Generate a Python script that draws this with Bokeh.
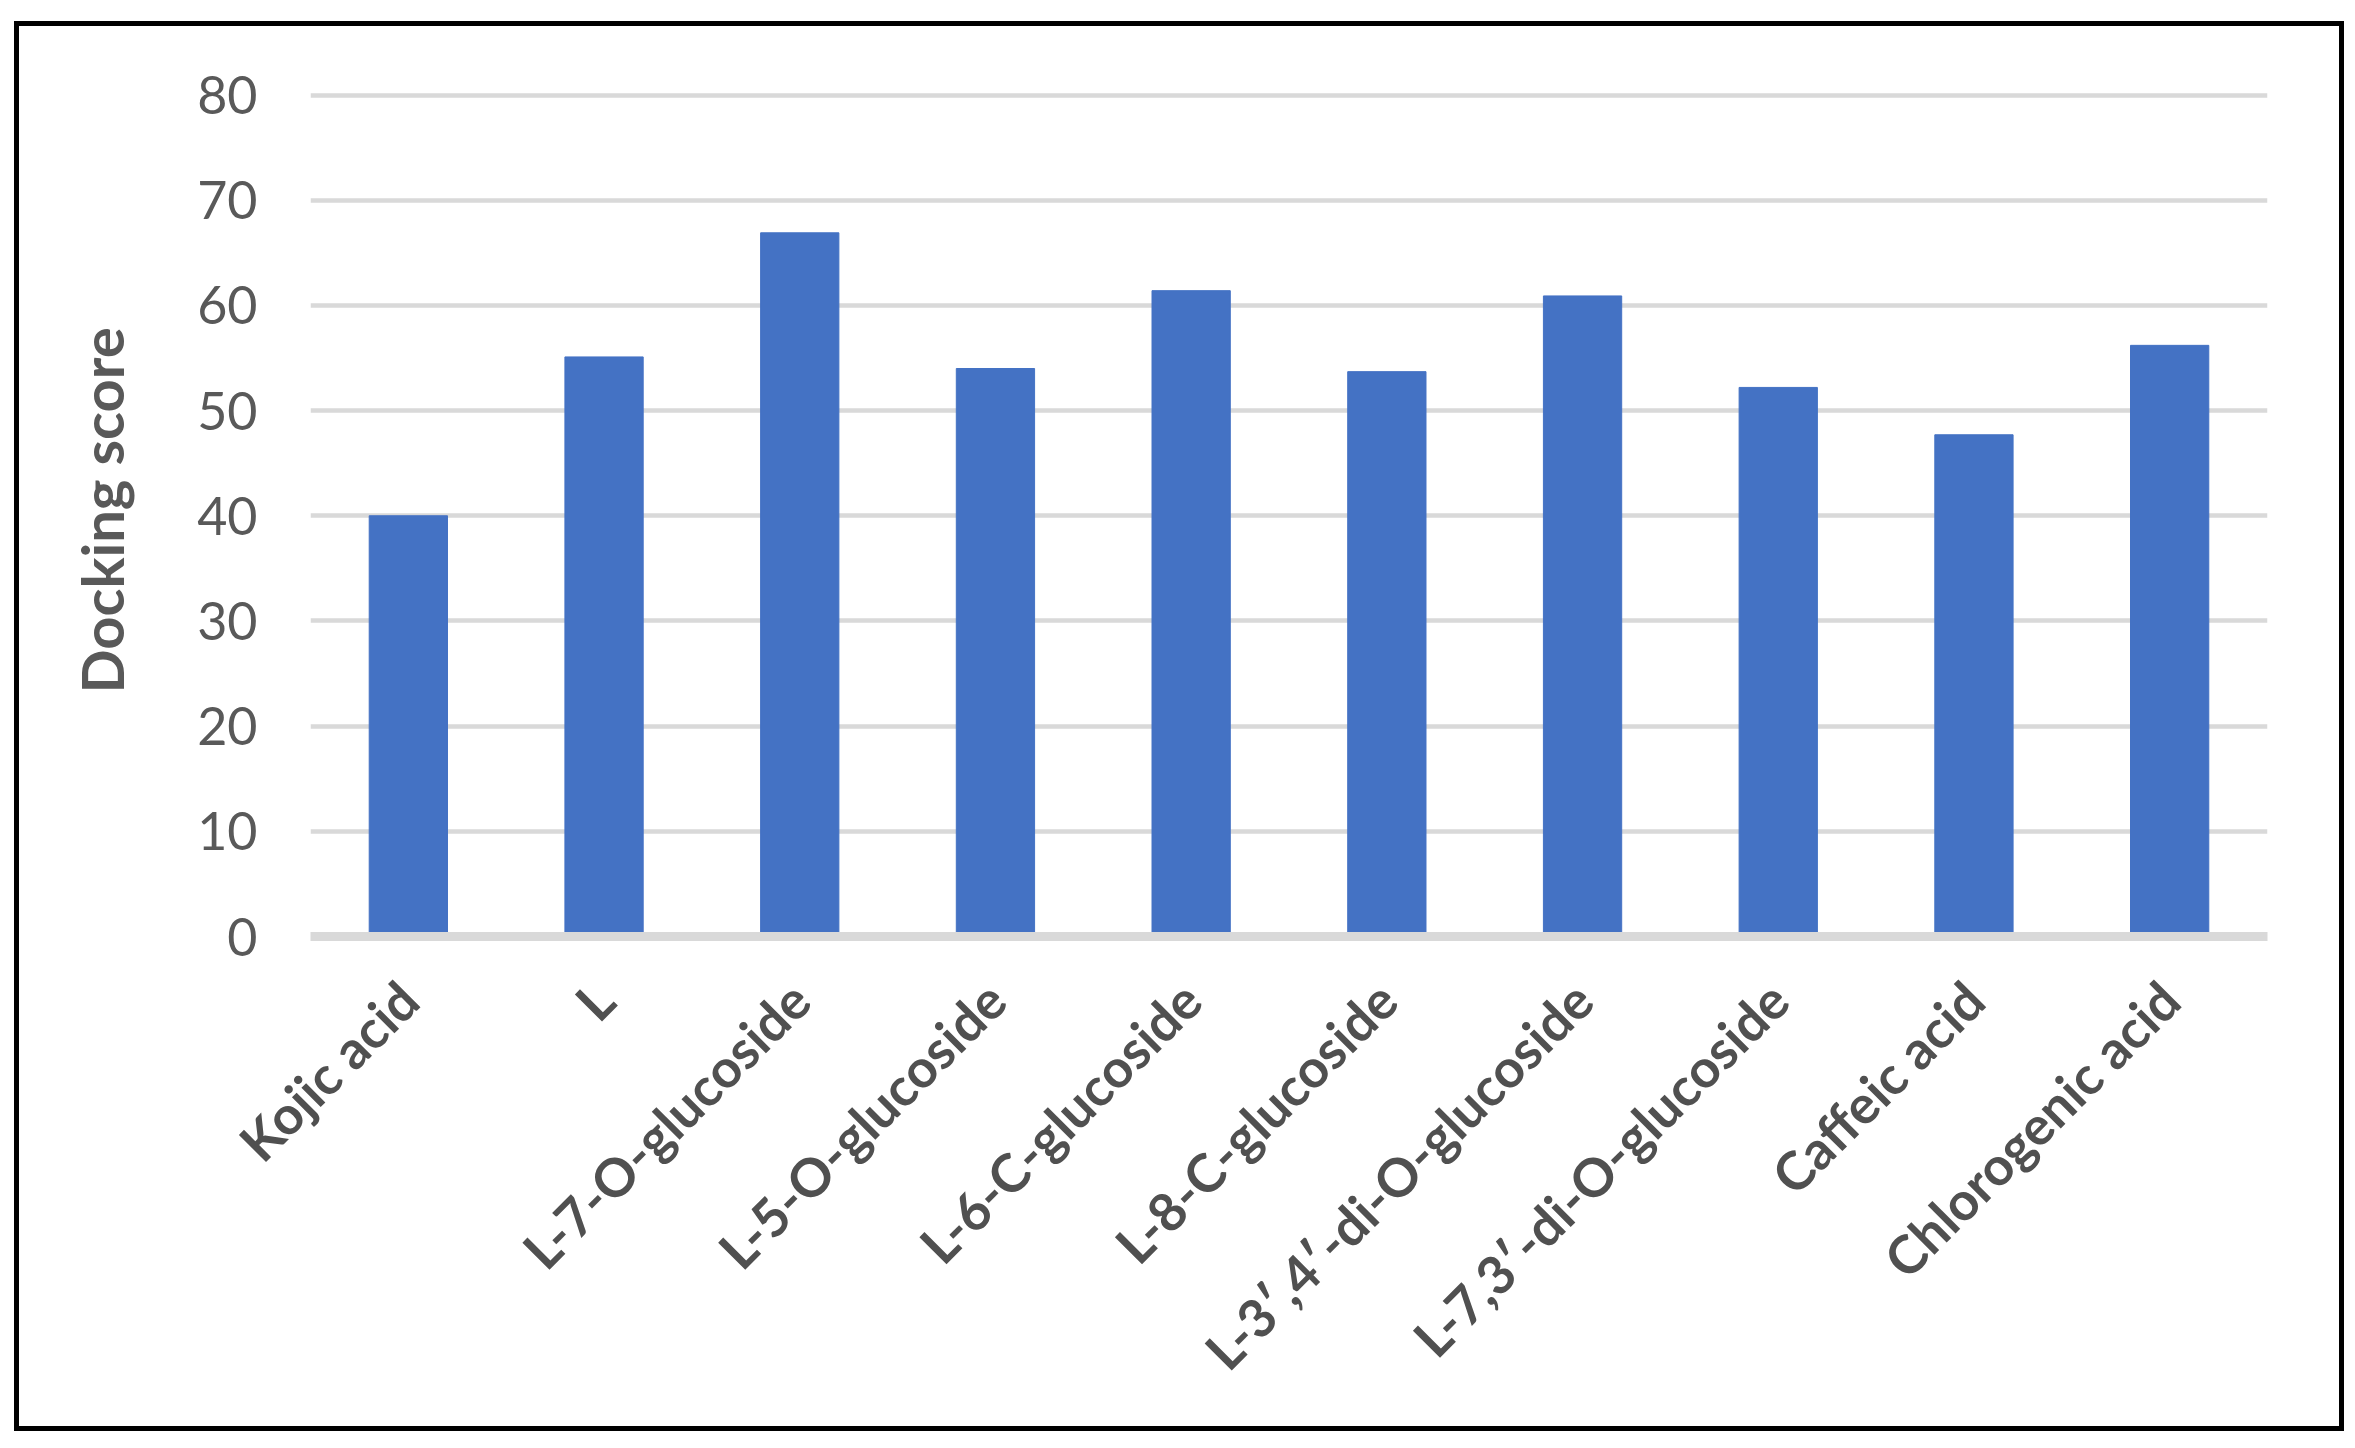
from bokeh.plotting import figure
from bokeh.models import FactorRange, Range1d, SingleIntervalTicker
from bokeh.embed import file_html
from bokeh.resources import INLINE
from math import pi

compounds = ["Kojic acid", "L", "L-7-O-glucoside", "L-5-O-glucoside", "L-6-C-glucoside",
             "L-8-C-glucoside", "L-3\u2032,4\u2032-di-O-glucoside", "L-7,3\u2032-di-O-glucoside",
             "Caffeic acid", "Chlorogenic acid"]
docking_score = [40.0, 55.1, 66.9, 54.0, 61.4, 53.7, 60.9, 52.2, 47.7, 56.2]
y_label = "Docking score"

W, H = 2330, 1410
p = figure(width=W, height=H, x_range=FactorRange(*compounds), y_range=Range1d(0, 81),
           output_backend="svg", toolbar_location=None,
           min_border_left=291, min_border_right=82, min_border_top=58, min_border_bottom=500)
p.styles = {"border": "5px solid black", "transform": "translate(14px, 21px)"}

p.vbar(x=compounds, top=docking_score, width=0.4, color="#4472C4")

p.outline_line_color = None
p.xgrid.grid_line_color = None
p.ygrid.grid_line_color = "#D9D9D9"
p.ygrid.grid_line_width = 4.5
p.yaxis.ticker = SingleIntervalTicker(interval=10)
p.yaxis.axis_line_color = None
p.yaxis.major_tick_line_color = None
p.yaxis.minor_tick_line_color = None
p.yaxis.major_label_text_font = "Lato"
p.yaxis.major_label_text_font_size = "52px"
p.yaxis.major_label_text_color = "#595959"
p.yaxis.major_label_standoff = 47
p.yaxis.axis_label = y_label
p.yaxis.axis_label_text_font = "Lato"
p.yaxis.axis_label_text_font_size = "58px"
p.yaxis.axis_label_text_font_style = "bold"
p.yaxis.axis_label_text_color = "#595959"
p.yaxis.axis_label_standoff = 58

p.xaxis.axis_line_color = "#D9D9D9"
p.xaxis.axis_line_width = 9
p.xaxis.major_tick_line_color = None
p.xaxis.minor_tick_line_color = None
p.xaxis.major_label_orientation = pi / 4
p.xaxis.major_label_text_font = "Lato"
p.xaxis.major_label_text_font_size = "53px"
p.xaxis.major_label_text_font_style = "bold"
p.xaxis.major_label_text_color = "#505050"
p.xaxis.major_label_standoff = 48

open("out.html", "w").write(file_html(p, INLINE))
